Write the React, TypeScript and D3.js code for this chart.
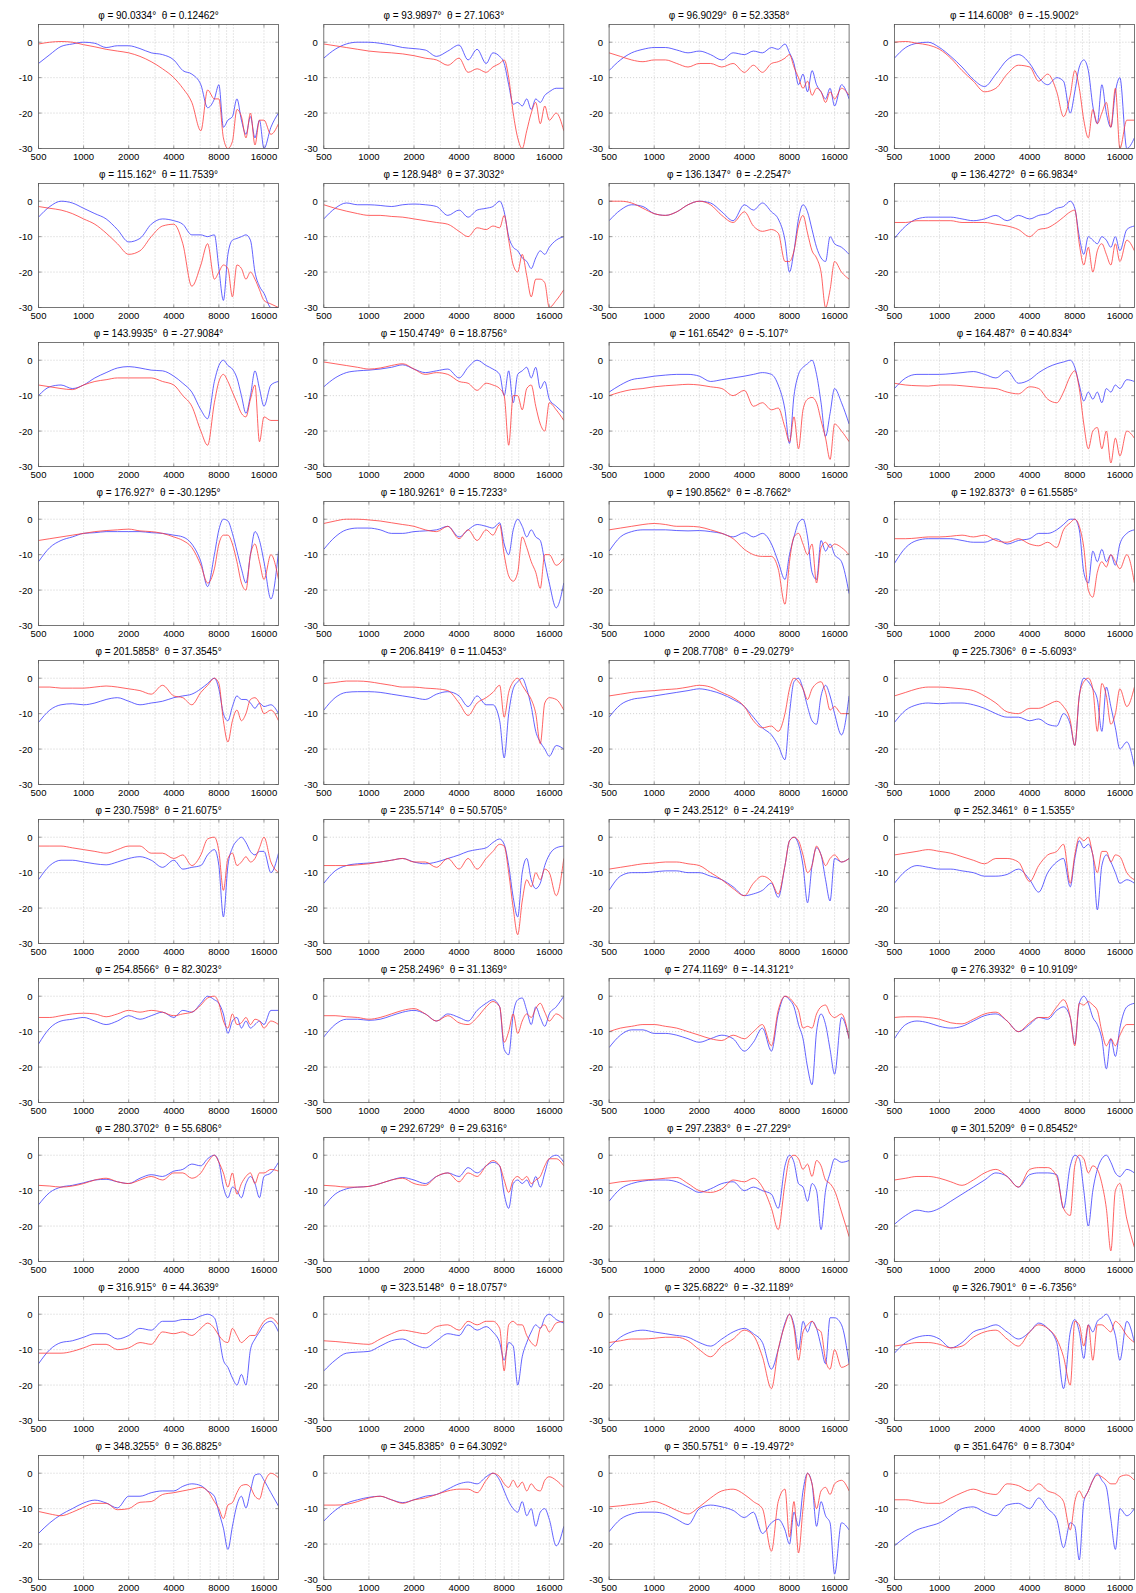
import * as d3 from "d3";

const FREQS = [500, 595, 707, 841, 1000, 1189, 1414, 1682, 2000, 2378, 2828, 3364, 4000, 4595, 5278, 6063, 6727, 7464, 8000, 8574, 9190, 9849, 10556, 11314, 12126, 12996, 13929, 14929, 16000, 17800, 20000];

const PHI = ["90.0334", "93.9897", "96.9029", "114.6008", "115.162", "128.948", "136.1347", "136.4272", "143.9935", "150.4749", "161.6542", "164.487", "176.927", "180.9261", "190.8562", "192.8373", "201.5858", "206.8419", "208.7708", "225.7306", "230.7598", "235.5714", "243.2512", "252.3461", "254.8566", "258.2496", "274.1169", "276.3932", "280.3702", "292.6729", "297.2383", "301.5209", "316.915", "323.5148", "325.6822", "326.7901", "348.3255", "345.8385", "350.5751", "351.6476"];
const THETA = ["0.12462", "27.1063", "52.3358", "-15.9002", "11.7539", "37.3032", "-2.2547", "66.9834", "-27.9084", "18.8756", "-5.107", "40.834", "-30.1295", "15.7233", "-8.7662", "61.5585", "37.3545", "11.0453", "-29.0279", "-5.6093", "21.6075", "50.5705", "-24.2419", "1.5355", "82.3023", "31.1369", "-14.3121", "10.9109", "55.6806", "29.6316", "-27.229", "0.85452", "44.3639", "18.0757", "-32.1189", "-6.7356", "36.8825", "64.3092", "-19.4972", "8.7304"];

const BLUE: number[][] = [
  [-6, -3.5, -1.2, -0.5, 0, -0.3, -1.5, -1, -1, -1.8, -3, -3.5, -5, -8, -9, -12, -18.5, -16, -12, -24, -22, -21, -16, -22, -26, -21, -27, -22, -30, -24, -20],
  [-4.5, -2, -0.5, 0, 0, -0.3, -0.8, -1.5, -1.8, -2.2, -4, -2.5, -0.8, -5, -2, -6, -3, -4, -6, -12, -17.5, -17, -18, -16, -19, -16, -17, -15, -14, -13, -13],
  [-8, -5, -3, -2, -1.5, -1.5, -2.2, -3, -2.5, -3.5, -5, -3, -3.5, -2.5, -3, -1.5, -2, -0.5, -3, -6, -12, -9, -14, -8, -12, -14, -16, -13, -18, -12, -16],
  [-4.5, -1.5, -0.3, 0, -1.5, -4, -7, -10.5, -12.5, -9, -5, -3.5, -6, -10, -12, -10, -11, -20, -14, -7, -5, -8, -18, -23, -12, -20, -24, -14, -10, -30, -27],
  [-4.5, -1.5, 0, -0.5, -2, -3.5, -5, -8, -11.5, -10.5, -6.5, -5, -5.5, -6.5, -9.5, -9.5, -10, -9.5, -19, -28, -15, -11, -10.5, -10, -9.5, -11, -20, -24, -26, -30, -30],
  [-5, -2, -0.5, -1, -1, -1.2, -1.5, -1, -0.8, -1, -1.5, -4, -2.5, -4.5, -2.5, -2, -1.5, 0, -3, -10, -13, -14, -16, -17, -19, -16, -14, -15, -13, -11, -10],
  [-5.5, -2.5, -1, -1.5, -3.5, -4, -3, -1, 0, -0.5, -3, -5.5, -1, -2.5, -0.5, -3, -5, -11, -20, -14, -5, -1, -3, -8, -13, -16, -17, -10, -12, -13, -15],
  [-10.5, -7, -5, -4.5, -4.5, -4.5, -5, -5.5, -5, -4, -5.5, -4, -5, -4, -3.5, -2, -1.5, 0, -2, -10, -15, -10, -11, -12, -10, -11, -13, -10, -14, -8, -7],
  [-10, -7.5, -7, -8, -7, -5, -3.5, -2.2, -1.8, -2.2, -2.8, -3, -4.5, -6.5, -9, -14, -16.5, -6, -1.5, 0, -1.5, -2.5, -5, -10, -15, -10, -3, -8, -13, -7, -6],
  [-7.5, -5, -3.5, -3, -2.8, -2.5, -2, -1.3, -2.5, -3.5, -3, -2.5, -5, -2, 0, -1.5, -2.5, -4, -10, -3, -12, -4, -3, -2, -5, -2, -8, -6, -11, -13, -15],
  [-9, -7, -5.5, -5, -4.5, -4.2, -4, -4, -4.5, -6, -5.5, -5, -4.5, -4, -3.5, -4, -7, -14, -23.5, -10, -4, -2, -1, 0, -4, -12, -21.5, -15, -8, -12, -18],
  [-8, -5, -4, -4, -4, -3.8, -3.5, -3.2, -4, -5, -3, -6.5, -5.5, -3.5, -2, -1, -0.5, 0, -2, -7, -11.5, -9, -11, -9, -12, -8, -9, -7, -8, -5.5, -6],
  [-12, -8, -6, -5, -4, -3.8, -3.5, -3.5, -3.5, -3.5, -3.8, -4, -4.5, -5, -7, -12, -19, -10, -3, 0, -0.5, -4, -9, -14, -18, -10, -3.5, -6, -12, -22.5, -9],
  [-8.5, -5, -3, -2.5, -2.5, -3, -4, -4, -3.5, -3.3, -3, -2, -5, -3, -1.5, -2, -2.5, -1, -7, -10, -3, 0, -2, -5, -3, -5, -6, -12, -18, -25, -18],
  [-9, -5, -3.5, -3, -3, -3, -3.2, -3.3, -3.2, -3.5, -4, -5, -3.8, -5, -4, -7, -12, -17, -10, -5, -1, 0, -5, -15, -17, -6, -9, -7, -10, -12, -21],
  [-12.5, -8, -6, -5.5, -5.5, -5.5, -6, -6.5, -6.5, -5.5, -7, -6, -5.5, -4, -4, -3, -1.5, 0, 0, -3, -15, -18, -9, -12, -8.5, -12, -10, -13, -7, -4, -3],
  [-12.5, -9, -7.5, -7.2, -7.5, -7, -6, -5.5, -6.5, -7.5, -7, -6.5, -5.5, -5, -4.5, -3, -1.5, 0, -3, -10, -12, -8, -5, -6, -6, -7, -8.5, -7, -8, -7.5, -10],
  [-9, -5.5, -4, -3.8, -3.8, -4, -4.5, -5, -5.5, -6, -4.5, -3.8, -5, -8, -5, -7.5, -7.5, -12, -22.5, -10, -3, -1, 0, -3, -8, -15, -18, -20, -22, -19, -20],
  [-11, -7.5, -6, -5.5, -5, -4.5, -4, -3.5, -3, -3.5, -4.5, -6, -8, -11, -14, -16, -19, -23, -10, -1, 0, -3, -8, -12, -13, -5, -2, -5, -10, -16, -5],
  [-12.5, -9, -7.5, -7, -7.2, -7, -7, -7.5, -8.5, -10, -11, -11, -12, -11.5, -13, -13.5, -10, -13, -19, -5, 0, -1, -3, -6, -15, -2.5, -8, -14, -20, -18, -25],
  [-12, -8, -6.5, -6.5, -7, -7.5, -7.8, -7, -6, -5.5, -6.5, -8.5, -6.5, -9, -8.5, -8, -5, -3.5, -8, -22.5, -8, -3, -1, 0, -1.5, -4, -5, -4, -4, -10, -4.5],
  [-13, -9.5, -8, -7.5, -7.3, -7, -6.5, -6, -7, -7.5, -7, -6, -5, -4, -3.5, -3, -1.5, -0.5, -2, -8, -17, -22.5, -10, -6, -12, -14.5, -13, -8, -5, -3, -2.5],
  [-15, -11, -10, -10, -9.8, -9.5, -9.5, -10, -10, -11, -12, -14, -16.5, -16, -15, -13, -17, -8, -1, 0, -2, -8, -18.5, -8, -3, -5, -12, -18, -6, -7, -6],
  [-13, -9.5, -8, -8.5, -9, -9, -9.5, -10, -11, -11, -10.5, -9, -12, -15.5, -10, -7, -6, -14, -6, -1, -3, -2, -5, -20.5, -8, -5, -7, -10, -13, -12, -13],
  [-13.5, -9, -7, -6.5, -6, -7, -8, -7, -5.5, -6.5, -5.5, -4.5, -6, -4, -4.5, -2, 0, -1, -2, -5, -10.5, -7, -6, -9, -7, -9, -8, -7, -8, -4, -4],
  [-11.5, -8, -6.5, -6.5, -6.8, -6.5, -5.5, -4.5, -4, -5, -7, -5, -6, -7, -4, -2, -1, -3, -15, -16.5, -5, -1, -0.5, -4, -8, -3, -6, -8.5, -5, -3, 0],
  [-14.5, -11, -9.5, -9.5, -10.5, -10.5, -11, -12, -13, -12, -11, -12, -15.5, -13, -9, -15.5, -5, 0, -1, -3, -8, -12, -20, -25, -10, -5, -8, -15, -22, -6, -12],
  [-12, -8, -7, -7.5, -8.5, -9, -8.5, -7, -5.5, -5, -7, -10, -8, -6, -6.5, -4, -3, -6, -13.5, -2, 0, -2, -6, -8, -12, -20.5, -12, -17, -9, -3, -2],
  [-14, -10.5, -9, -8.5, -7.8, -7, -6.8, -7.5, -8, -6.5, -5.5, -6, -4.5, -4, -2.5, -3, -1, 0, -2, -9, -12, -9, -10, -12, -8, -6, -8, -12, -6, -5, -2],
  [-14.5, -11, -9.5, -9, -8.8, -8, -7, -6.3, -7, -8, -6, -5, -6, -3.5, -5, -3, -2, -3, -11, -15, -8, -7, -8, -7, -9, -6, -9, -5, -1, 0, -2],
  [-13, -9.5, -8, -7.3, -7, -7, -7.5, -9, -10.5, -9.5, -8, -7.5, -10, -9, -10, -11, -15, -3, 0, -2, -8, -9, -13, -8, -10, -21, -10, -5, -1, -2, -1.5],
  [-19.5, -17, -15.5, -16, -15, -13, -11, -9, -7, -5, -6, -9, -5.5, -5, -5, -5.5, -15, -3, 0, -1, -10, -20, -10, -4, -1, 0, -2, -5, -6, -4, -5],
  [-14, -10, -8, -7.5, -6.5, -5.5, -5.5, -7, -6, -4, -4.5, -2, -2, -1.5, -1.5, -0.5, 0, -1, -6, -13, -15, -18, -20, -17, -20, -10, -7, -5, -3, -2, -5],
  [-16, -13, -11, -10.7, -10.5, -9, -7.5, -7, -8.5, -9.5, -7.5, -5.5, -6, -3, -4.5, -3.5, -5, -8, -13, -8, -9, -20, -12, -8, -5, -3, -4, -1, 0, -1.5, -2.5],
  [-9.5, -6.5, -5, -4.5, -5, -5.5, -6, -6.5, -8, -9, -7, -5, -4, -5.5, -8, -15.5, -10, -2.5, 0, -3, -10, -2, -5, -2, -4, -9, -14, -1, -1, -3, -14],
  [-11, -8, -6.5, -6, -7, -9.5, -8, -5, -4, -3, -5, -7, -5, -2.5, -4, -8, -21, -5, -1.5, -5, -12.5, -3, -5, -2, -1, 0, -2, -6, -13, -2, -8],
  [-17, -14, -11.7, -10, -8.4, -7.6, -8.4, -9.8, -6.5, -6.5, -5.5, -5, -5, -3.7, -3, -3.5, -5, -6.5, -11, -15.5, -21.5, -15, -9, -6.5, -9.8, -5, -0.5, -0.2, -2, -5.5, -9.3],
  [-13.5, -10.5, -8.5, -7.5, -6.8, -6.5, -7.5, -8.3, -7.5, -6.5, -6, -4.5, -3, -2.5, -3, -1, 0, -2, -5, -8, -10, -11, -8, -12, -10, -15, -11, -10, -13, -20.5, -15],
  [-16.5, -13, -11.5, -11, -11, -11.5, -13, -14.5, -10, -9, -9.5, -10.5, -12.5, -11, -17, -14, -13, -16, -20, -11, -15, -5, 0, -3, -15, -8, -12, -14, -28.5, -14, -16],
  [-20.5, -18, -16, -15, -14, -12, -10, -9.5, -11, -12, -9, -8.5, -10, -7, -10, -13, -21, -14, -15, -24.5, -8, -5, -2, 0, -2, -4, -13, -21.5, -10, -12, -10],
];

const RED: number[][] = [
  [-0.5, 0, 0.2, 0, -0.7, -1.3, -2, -2.5, -3, -4, -5.5, -7.5, -10, -13, -17, -25, -13.5, -16, -16, -27, -30, -28, -19, -21, -27, -20, -29, -22, -22, -26, -23],
  [-0.5, -1, -1.5, -2, -2.5, -2.8, -3, -3.3, -3.8, -4.5, -5, -6.5, -4.5, -8.5, -7.5, -8.5, -7, -6, -5, -10, -20, -27, -30, -25, -20, -17, -23, -18, -22, -20, -25],
  [-3, -4, -5, -5.5, -5, -5, -6, -7, -6, -6, -7, -6, -8.5, -6.5, -8.5, -6, -5.5, -4.5, -3.5, -7, -10, -13, -11, -15, -13, -14, -17, -14, -16, -13, -15],
  [0, 0.2, -0.3, -0.8, -2, -4.5, -8, -11, -14, -13, -9, -6.5, -7, -11, -9, -14, -21, -15, -8, -13, -22, -27, -19, -23, -20, -17, -24, -13, -30, -22, -22],
  [-1.5, -2, -2.5, -3.5, -5, -6.5, -9, -12, -15, -14, -10, -7, -6.5, -12, -24, -18, -12, -22, -20, -18, -19, -27, -18, -19, -22, -20, -22, -25, -28, -29, -30],
  [-1, -2, -2.8, -3.5, -4, -4, -4.3, -4.5, -5, -5.5, -6, -6.5, -8.5, -10, -7.5, -8, -7, -7.5, -4, -11, -18, -20, -15, -21, -27, -22, -22, -23, -30, -28, -25],
  [0, 0, -0.5, -2, -3.5, -4, -3, -1, 0, -1, -4, -6, -3, -7, -8.5, -8, -9, -17, -17, -14, -7, -4, -9, -14, -16, -20, -30, -25, -17, -20, -22],
  [-6, -6, -5.5, -5.5, -5.5, -5.5, -6, -6, -6, -6.5, -7, -8, -10, -8, -7.5, -6, -4.5, -3, -2.5, -12, -18, -13, -20, -14, -12, -15, -18, -12, -17, -11, -14],
  [-7, -7.5, -8, -8.3, -7, -6, -5.5, -5, -5, -5, -5, -6, -7, -10, -13, -20, -24, -12, -6, -4, -6, -9, -12, -15, -16, -11, -7, -23, -16, -17, -17],
  [-0.5, -1, -1.5, -2, -2.5, -2.2, -1.5, -1, -2.5, -4, -3.5, -4, -6, -6.5, -8.5, -6.5, -7, -8, -10, -24, -10, -10, -14, -8, -7, -13, -18, -20, -12, -14, -17],
  [-10, -9, -8.3, -8, -7.5, -7.2, -7, -6.8, -7, -7.5, -8, -10, -8.5, -13, -12, -14, -13.5, -19, -23, -16, -25, -14, -11, -10.5, -12, -17, -22, -28, -18, -20, -23],
  [-6.5, -7, -7.2, -7.3, -7, -7, -7.2, -7.5, -7.8, -8, -9, -9.5, -7.5, -8, -11, -12, -9, -4.5, -3, -8, -18, -25, -20, -19, -25, -20, -29, -22, -27, -20, -22],
  [-6, -5.5, -5, -4.5, -4, -3.5, -3.2, -3, -2.8, -3.3, -3.5, -4, -5, -6, -8, -13, -18, -14, -7, -4.5, -4.5, -7, -12, -18, -20, -10, -7, -12, -17, -10, -17],
  [-1.2, -0.5, 0, 0, -0.2, -0.5, -1, -1.5, -2, -3, -3.5, -2, -5.5, -3, -6, -3, -4.5, -1.5, -10, -16, -17.5, -15, -5, -8, -12, -15, -19.5, -10, -10, -13, -11],
  [-3, -2.5, -2, -1.5, -1.2, -1.5, -2, -2, -2.2, -3, -4, -5.5, -8.5, -10, -10.5, -10.5, -14, -24, -12, -5, -4, -7, -10, -7, -18, -8, -6.5, -8, -7, -8, -10],
  [-5.5, -5.5, -5.3, -5, -5, -4.8, -4.5, -5, -4.5, -6, -6.5, -5.5, -7, -7.5, -6.5, -8, -3, -1, 0, -2, -8, -20, -22, -15, -12, -13.5, -10, -12, -14, -10, -18],
  [-2.5, -2.5, -2.8, -2.8, -2.8, -2.5, -2.2, -2.5, -3, -3.5, -4.5, -2, -5, -5.5, -7.5, -4, -2, 0, -1.5, -12, -18, -12, -9, -12, -10, -6, -5.5, -7, -10, -9, -12],
  [-1.5, -1.2, -0.8, -0.8, -1, -1.5, -2, -2.5, -2.5, -2.8, -3, -3.5, -7, -10.5, -7, -5.5, -4, -2, -11, -4, -1, 0, -2, -4, -6, -10, -18.5, -7, -5.5, -6, -9],
  [-5, -4.5, -4, -3.7, -3.5, -3.2, -3, -2.5, -2, -2.5, -4, -5.5, -8, -12, -14, -13.5, -15, -10, -3, 0, -1, -3, -6, -3, -1.5, -1, -4, -9, -8, -10, -10],
  [-5, -4, -3, -2.5, -2.5, -2.7, -3, -3.5, -5, -7, -9.5, -10, -8.5, -8.5, -7.5, -6.5, -8, -12, -19, -5, -1, 0, -3, -15, -1.5, -5, -13, -10, -3, -8, -2.5],
  [-2.5, -2.5, -2.5, -3, -3.5, -4, -4.5, -3.5, -2.5, -2.5, -4.5, -4.5, -6, -5, -8, -5, -0.5, 0, -4, -15, -6, -4.5, -8, -7, -5.5, -7, -6, -3, 0, -7, -10],
  [-8, -8, -8, -7.8, -7.5, -7, -6.5, -6, -7, -7, -8.5, -6, -9, -6, -9, -6, -4, -2, -2.5, -10, -20, -27.5, -18, -12, -14, -10, -12, -9, -10, -16.5, -6],
  [-9, -8.5, -8, -7.5, -7.3, -7, -7, -7.5, -8, -10, -12, -14.5, -16.5, -13, -11, -12.5, -16, -8, -1, 0, -1, -5, -10, -8, -2.5, -5, -8, -6, -5, -7, -6],
  [-5, -4.5, -4, -3.5, -4, -4.5, -5.5, -6.5, -7.5, -6, -6, -7, -12.5, -8, -5, -4, -2, -13, -5, 0, -1, 0, -5, -10, -4, -4, -7, -5, -5.5, -10, -12],
  [-6, -6, -5.5, -5, -4.8, -5, -5.8, -5, -4, -4.5, -4, -4.5, -5.5, -5, -4.5, -2.5, -0.5, 0, -2, -7, -9, -5, -8, -7.5, -6, -8, -6.5, -7, -9, -7, -8],
  [-5.5, -5.5, -5.8, -6, -6.5, -6, -5, -4, -3.5, -5, -7, -5.5, -7.5, -8, -6, -3, -1.5, -3, -13, -10, -5, -10.5, -7, -5, -6, -3.5, -2, -4.5, -7, -5, -6.5],
  [-10, -9, -8.5, -8, -8, -8.5, -9, -10, -11, -12, -12.5, -11, -12, -10, -8, -14, -4, 0, -0.5, -2, -4, -9, -8.5, -9, -5, -3, -2.5, -5, -6, -5, -12],
  [-6, -5.8, -5.8, -6, -6.5, -7.5, -7.8, -6.5, -5, -4.5, -7, -10, -7.5, -6, -6, -3, -1, -6, -14, -2, -2.5, -1.5, -2.5, -4, -10, -14, -12, -14, -11, -8, -8],
  [-8.5, -8.7, -9, -8.7, -8, -7, -6.5, -7.5, -8, -7, -6, -7, -5, -5, -6.5, -5, -2, 0, -2, -5, -9, -5, -11, -8, -6, -5, -8, -5, -5, -4, -4.5],
  [-8.5, -8.7, -9, -9, -8.8, -8, -7, -6.5, -8, -8.5, -6, -5, -7.5, -5, -6, -3, -1.5, -3, -7, -10.5, -7, -6, -7, -6, -8, -7, -6, -3, -1, -1, -3],
  [-8, -7.5, -7.2, -7, -6.8, -6.5, -6.3, -8, -10, -10.5, -9.5, -7, -7.5, -6.5, -9, -15, -21, -8, -1, 0, -1, -4, -2.5, -6, -1.5, -3, -7, -8, -10, -16, -23],
  [-7, -6.5, -6, -6, -6.5, -7.5, -8.5, -7, -5, -4, -6, -9, -4, -3.5, -3.5, -6, -15, -17, -3, 0, -1, -5, -3, -4, -8, -15, -27, -10, -8, -18, -26],
  [-11, -11, -11, -10.5, -9.5, -8.5, -8.5, -10, -9.5, -8, -8.5, -5, -5.5, -5, -6, -4, -2.5, -4, -6, -7.5, -8, -4, -6, -8, -7, -6, -6, -4, -2, -1, -3],
  [-7.5, -7.7, -8, -8.3, -8.5, -7, -5.5, -4.5, -5, -5.5, -3.5, -3, -4.5, -2, -3, -2, -2, -4, -16, -3, -2, -3, -3, -6, -8, -9, -4, -3, -5, -2.5, -2],
  [-8, -7.5, -7, -7, -6.8, -6.5, -6.5, -7.5, -10, -12, -9, -7, -4.5, -6, -12, -21, -10, -3, 0, -4, -13, -5, -3, -2, -4, -5, -13, -15.5, -10, -15, -14],
  [-9, -8.5, -8, -8, -8.5, -9.5, -9, -6.5, -5, -4.5, -7, -9, -5, -3, -4, -7, -12, -20, -2, -3, -9, -3, -13, -3, -3, -4, -5, -2, -3, -6, -8],
  [-10.8, -11.5, -12, -11, -9.6, -8.5, -8.5, -10.3, -10, -8.2, -8, -6, -5.5, -5, -4.5, -4, -5, -8, -10, -12.8, -9, -8.3, -5.5, -3.5, -3.2, -4, -6.5, -7.3, -3, 0, -1.3],
  [-9, -9, -8.8, -8, -7, -6.5, -7.5, -8.5, -7.5, -7, -6, -5, -4.5, -4.5, -5.5, -2, 0, -1, -3, -4, -2, -4, -2.5, -5, -3, -4.5, -5, -2, -1, -2, -4],
  [-9.5, -9.2, -8.8, -8.5, -8, -9, -10.5, -11.5, -9.5, -7, -5, -4.5, -6, -8, -10, -22, -8, -4.5, -18, -8, -22.5, -10, 0, -3, -10, -5, -4, -6, -3, -2, -5],
  [-7.5, -7.5, -8, -8.5, -8.5, -7, -5.5, -4.5, -5.5, -6, -3, -3.5, -5, -3, -5, -6, -8, -16, -8, -5, -7, -5, -2, -0.5, -1, -2, -3, -3, -1, -0.5, -2],
];

const X_TICKS = [500, 1000, 2000, 4000, 8000, 16000];
const X_GRID = [1000, 2000, 3000, 4000, 5000, 6000, 7000, 8000, 9000, 10000, 16000];
const Y_TICKS = [-30, -20, -10, 0];

const W = 1136;
const H = 1593;
const COLS = 4;
const PW = 240;
const PH = 124;
const LEFT0 = 38.5;
const COL_STEP = 285.3;
const TOP0 = 24.5;
const ROW_STEP = 159;
const FONT = "'Liberation Sans', Arial, Helvetica, sans-serif";

const x = d3.scaleLog().domain([500, 20000]).range([0, PW]);
const y = d3.scaleLinear().domain([-30, 5]).range([PH, 0]);

function Panel({ i }: { i: number }) {
  const col = i % COLS;
  const row = Math.floor(i / COLS);
  const left = LEFT0 + col * COL_STEP;
  const top = TOP0 + row * ROW_STEP;

  const line = d3
    .line<number>()
    .x((_, k) => x(FREQS[k]))
    .y((d) => y(d))
    .curve(d3.curveMonotoneX);

  const clipId = `clip-${i}`;

  return (
    <g transform={`translate(${left},${top})`}>
      <clipPath id={clipId}>
        <rect x={0} y={0} width={PW} height={PH} />
      </clipPath>
      <text
        x={PW / 2}
        y={-6}
        textAnchor="middle"
        fontSize={10}
        fontFamily={FONT}
        style={{ whiteSpace: "pre" }}
      >
        {`φ = ${PHI[i]}°  θ = ${THETA[i]}°`}
      </text>
      {/* grid */}
      {X_GRID.map((f) => (
        <line
          key={`gx${f}`}
          x1={x(f)}
          x2={x(f)}
          y1={0}
          y2={PH}
          stroke="#b0b0b0"
          strokeWidth={0.6}
          strokeDasharray="1,2"
        />
      ))}
      {Y_TICKS.filter((v) => v > -30).map((v) => (
        <line
          key={`gy${v}`}
          x1={0}
          x2={PW}
          y1={y(v)}
          y2={y(v)}
          stroke="#b0b0b0"
          strokeWidth={0.6}
          strokeDasharray="1,2"
        />
      ))}
      {/* curves */}
      <g clipPath={`url(#${clipId})`}>
        <path d={line(BLUE[i]) || ""} fill="none" stroke="#3b3bff" strokeWidth={0.8} />
        <path d={line(RED[i]) || ""} fill="none" stroke="#ff3b3b" strokeWidth={0.8} />
      </g>
      {/* box + ticks */}
      <rect x={0} y={0} width={PW} height={PH} fill="none" stroke="#555" strokeWidth={0.8} />
      {X_TICKS.map((f) => (
        <g key={`tx${f}`}>
          <line x1={x(f)} x2={x(f)} y1={PH} y2={PH - 3} stroke="#555" strokeWidth={0.6} />
          <line x1={x(f)} x2={x(f)} y1={0} y2={3} stroke="#555" strokeWidth={0.6} />
          <text
            x={x(f)}
            y={PH + 11}
            textAnchor="middle"
            fontSize={9.5}
            fontFamily={FONT}
          >
            {f}
          </text>
        </g>
      ))}
      {Y_TICKS.map((v) => (
        <g key={`ty${v}`}>
          <line x1={0} x2={3} y1={y(v)} y2={y(v)} stroke="#555" strokeWidth={0.6} />
          <line x1={PW} x2={PW - 3} y1={y(v)} y2={y(v)} stroke="#555" strokeWidth={0.6} />
          <text
            x={-6}
            y={y(v) + 3.5}
            textAnchor="end"
            fontSize={9.5}
            fontFamily={FONT}
          >
            {v}
          </text>
        </g>
      ))}
    </g>
  );
}

export default function App() {
  return (
    <svg
      width={W}
      height={H}
      viewBox={`0 0 ${W} ${H}`}
      style={{ position: "absolute", left: 0, top: 0, background: "#fff" }}
    >
      <rect width={W} height={H} fill="#fff" />
      {PHI.map((_, i) => (
        <Panel key={i} i={i} />
      ))}
    </svg>
  );
}
